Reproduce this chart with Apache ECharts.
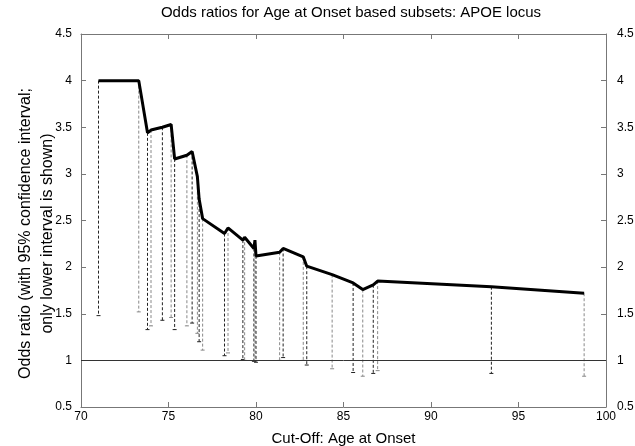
<!DOCTYPE html>
<html>
<head>
<meta charset="utf-8">
<title>APOE locus odds ratios</title>
<script src="https://cdn.jsdelivr.net/npm/echarts@6/dist/echarts.min.js"></script>
<style>
html, body { margin: 0; padding: 0; background: #fff; }
#main { width: 635px; height: 446px; }
</style>
</head>
<body>
<div id="main"></div>
<script>
// cut-off age at onset
var ages = [71.0, 73.3, 73.8, 74.0, 74.65, 75.15, 75.35, 76.05, 76.35, 76.65, 76.75, 76.95,
	78.2, 78.4, 79.25, 79.35, 79.88, 79.94, 80.0, 81.35, 81.55, 82.7, 82.9, 84.35,
	85.55, 86.1, 86.7, 86.95, 93.45, 98.75];
// odds ratio at each cut-off
var oddsRatios = [4.00, 4.00, 3.44, 3.47, 3.50, 3.53, 3.16, 3.20, 3.24, 2.97, 2.73, 2.52,
	2.36, 2.42, 2.29, 2.32, 2.20, 2.29, 2.12, 2.16, 2.20, 2.11, 2.01, 1.92,
	1.83, 1.76, 1.81, 1.85, 1.79, 1.72];
// lower end of the 95% confidence interval
var lowerCI = [1.48, 1.52, 1.33, 1.37, 1.43, 1.46, 1.33, 1.37, 1.40, 1.29, 1.20, 1.11,
	1.05, 1.08, 1.01, 1.00, 0.99, 1.00, 0.98, 1.00, 1.03, 1.00, 0.95, 0.91,
	0.87, 0.83, 0.86, 0.89, 0.86, 0.83];
var xTicks = [70, 75, 80, 85, 90, 95, 100];
var yTicks = [0.5, 1, 1.5, 2, 2.5, 3, 3.5, 4, 4.5];
var refLine = 1;

var font = "'Liberation Sans', Arial, sans-serif";

function makeX(pos, showLabels) {
	return {
		type: 'value',
		position: pos,
		min: xTicks[0],
		max: xTicks[xTicks.length - 1],
		interval: xTicks[1] - xTicks[0],
		axisLine: { show: true, lineStyle: { color: '#777', width: 1 } },
		axisTick: { show: true, inside: true, length: 5, lineStyle: { color: '#777' } },
		axisLabel: { show: showLabels, color: '#000', fontSize: 12, fontFamily: font, margin: 4 },
		splitLine: { show: false }
	};
}
function makeY(pos, margin) {
	return {
		type: 'value',
		position: pos,
		min: yTicks[0],
		max: yTicks[yTicks.length - 1],
		interval: yTicks[1] - yTicks[0],
		axisLine: { show: true, lineStyle: { color: '#777', width: 1 } },
		axisTick: { show: true, inside: true, length: 5, lineStyle: { color: '#777' } },
		axisLabel: { show: true, color: '#000', fontSize: 12, fontFamily: font, margin: margin },
		splitLine: { show: false }
	};
}

var xBottom = makeX('bottom', true);
xBottom.name = 'Cut-Off: Age at Onset';
xBottom.nameLocation = 'middle';
xBottom.nameGap = 24;
xBottom.nameTextStyle = { color: '#000', fontSize: 15, fontFamily: font };

var yLeft = makeY('left', 9);
yLeft.name = 'Odds ratio (with 95% confidence interval;\nonly lower interval is shown)';
yLeft.nameLocation = 'middle';
yLeft.nameGap = 22;
yLeft.nameMoveOverlap = false;
yLeft.nameTextStyle = { color: '#000', fontSize: 16, fontFamily: font, lineHeight: 22, padding: [0, 26, 0, 0] };

var ciData = ages.map(function(a, i) { return [a, oddsRatios[i], lowerCI[i]]; });
var lineData = ages.map(function(a, i) { return [a, oddsRatios[i]]; });

var myChart = echarts.init(document.getElementById('main'));
var option = {
	animation: false,
	backgroundColor: '#fff',
	title: {
		text: 'Odds ratios for Age at Onset based subsets: APOE locus',
		left: 346,
		textAlign: 'center',
		top: 0,
		textStyle: { color: '#000', fontSize: 15, fontWeight: 'normal', fontFamily: font }
	},
	grid: { left: 81, right: 29, top: 34, bottom: 39, containLabel: false, outerBoundsMode: 'none' },
	xAxis: [xBottom, makeX('top', false)],
	yAxis: [yLeft, makeY('right', 11)],
	series: [{
		type: 'custom',
		xAxisIndex: 0,
		yAxisIndex: 0,
		data: ciData,
		z: 2,
		renderItem: function(params, api) {
			var top = api.coord([api.value(0), api.value(1)]);
			var bot = api.coord([api.value(0), api.value(2)]);
			var col = params.dataIndex % 2 === 0 ? '#222' : '#888';
			return {
				type: 'group',
				children: [{
					type: 'line',
					shape: { x1: top[0], y1: top[1], x2: bot[0], y2: bot[1] },
					style: { stroke: col, lineWidth: 1, lineDash: [3, 2] }
				}, {
					type: 'line',
					shape: { x1: bot[0] - 2, y1: bot[1], x2: bot[0] + 2, y2: bot[1] },
					style: { stroke: col, lineWidth: 1 }
				}]
			};
		}
	}, {
		type: 'line',
		xAxisIndex: 0,
		yAxisIndex: 0,
		data: lineData,
		showSymbol: false,
		z: 5,
		lineStyle: { color: '#000', width: 3 },
		markLine: {
			silent: true,
			symbol: ['none', 'none'],
			label: { show: false },
			lineStyle: { color: '#333', type: 'solid', width: 1 },
			data: [{ yAxis: refLine }]
		}
	}]
};
myChart.setOption(option);
</script>
</body>
</html>
